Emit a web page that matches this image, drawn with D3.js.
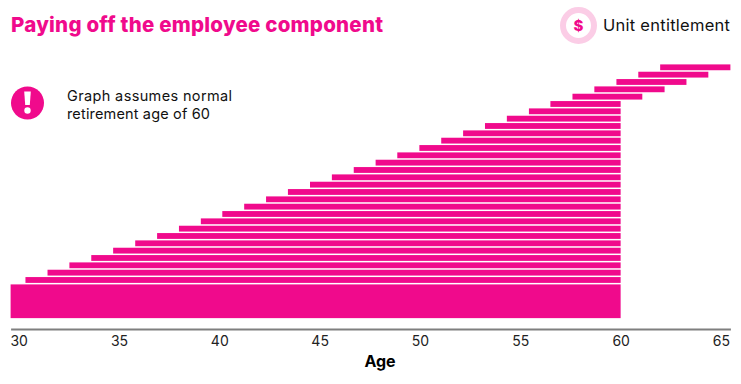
<!DOCTYPE html>
<html>
<head>
<meta charset="utf-8">
<script src="https://cdn.jsdelivr.net/npm/d3@7"></script>
<style>
  html, body { margin: 0; padding: 0; background: #fff; }
  text { font-family: Inter, "Noto Sans", sans-serif; }
</style>
</head>
<body>
<div id="chart"></div>
<script>
const ageTicks = [30, 35, 40, 45, 50, 55, 60, 65]

// bottom row first, the first row is the thick one
const rowStart = [29.6, 30.34, 31.44, 32.53, 33.62, 34.71, 35.81, 36.9, 37.99, 39.08, 40.15,
  41.24, 42.33, 43.42, 44.52, 45.61, 46.7, 47.79, 48.87, 49.97, 51.06,
  52.15, 53.24, 54.33, 55.43, 56.5, 57.6, 58.69, 59.79, 60.88, 61.97]
const rowEnd = [60, 60, 60, 60, 60, 60, 60, 60, 60, 60, 60,
  60, 60, 60, 60, 60, 60, 60, 60, 60, 60,
  60, 60, 60, 60, 60, 61.08, 62.19, 63.28, 64.37, 65.47]
const rowFrom = [-4.6, 0, 1, 2, 3, 4, 5, 6, 7, 8, 9,
  10, 11, 12, 13, 14, 15, 16, 17, 18, 19,
  20, 21, 22, 23, 24, 25, 26, 27, 28, 29]
const rowTo = [0, 1, 2, 3, 4, 5, 6, 7, 8, 9, 10,
  11, 12, 13, 14, 15, 16, 17, 18, 19, 20,
  21, 22, 23, 24, 25, 26, 27, 28, 29, 30]

const pink = "#f00a8c"
const rowGap = 1.5

let svg = d3.select("#chart")
            .append("svg")
            .attr("width", 741)
            .attr("height", 384)
            .style("display", "block")

let xScale = d3.scaleLinear([29.6, 65.47], [10.6, 730.4])
let yScale = d3.scaleLinear([0, 30], [284.4, 64.4])

svg.selectAll(".row")
   .data(rowStart)
   .enter()
   .append("rect")
   .attr("class", "row")
   .attr("x", d => xScale(d))
   .attr("y", (d, i) => yScale(rowTo[i]))
   .attr("width", (d, i) => xScale(rowEnd[i]) - xScale(d))
   .attr("height", (d, i) => yScale(rowFrom[i]) - yScale(rowTo[i]) - (i === 0 ? 0 : rowGap))
   .attr("fill", pink)

let xAxisFunction = d3.axisBottom(xScale)
                      .tickValues(ageTicks)
                      .tickSize(0)
                      .tickPadding(7)

let xAxis = svg.append("g")
               .attr("transform", "translate(0, 329)")
               .call(xAxisFunction)

xAxis.select(".domain")
     .attr("stroke", "#7f7f7f")
     .attr("stroke-width", 2)

xAxis.selectAll("text")
     .style("font-family", "Inter")
     .style("font-size", "14px")
     .attr("fill", "#222")

svg.append("text")
   .attr("x", 380)
   .attr("y", 367)
   .attr("text-anchor", "middle")
   .style("font-size", "16px")
   .style("font-weight", 700)
   .attr("fill", "#000")
   .text("Age")

svg.append("text")
   .attr("x", 11)
   .attr("y", 32)
   .style("font-size", "20.5px")
   .style("font-weight", 800)
   .attr("fill", pink)
   .attr("textLength", 372)
   .text("Paying off the employee component")

// note on the left
svg.append("circle").attr("cx", 27.5).attr("cy", 103).attr("r", 16.5).attr("fill", pink)
svg.append("path")
   .attr("d", "M24.2 91.5 h6.6 l-1 13.5 h-4.6 Z")
   .attr("fill", "#fff")
svg.append("circle").attr("cx", 27.5).attr("cy", 110.5).attr("r", 3.2).attr("fill", "#fff")

let noteLines = ["Graph assumes normal", "retirement age of 60"]
let noteWidths = [165, 143]
svg.selectAll(".note")
   .data(noteLines)
   .enter()
   .append("text")
   .attr("class", "note")
   .attr("x", 67)
   .attr("y", (d, i) => 101 + i * 18)
   .style("font-size", "14.5px")
   .attr("fill", "#111")
   .attr("textLength", (d, i) => noteWidths[i])
   .text(d => d)

// legend
svg.append("circle")
   .attr("cx", 578.5).attr("cy", 25.5).attr("r", 15.5)
   .attr("fill", "#fff")
   .attr("stroke", "#fbcde6")
   .attr("stroke-width", 6)
svg.append("text")
   .attr("x", 578.5)
   .attr("y", 31)
   .attr("text-anchor", "middle")
   .style("font-size", "15px")
   .style("font-weight", 800)
   .attr("fill", pink)
   .text("$")
svg.append("text")
   .attr("x", 603)
   .attr("y", 31)
   .style("font-size", "16.5px")
   .attr("fill", "#111")
   .attr("textLength", 127)
   .text("Unit entitlement")
</script>
</body>
</html>
